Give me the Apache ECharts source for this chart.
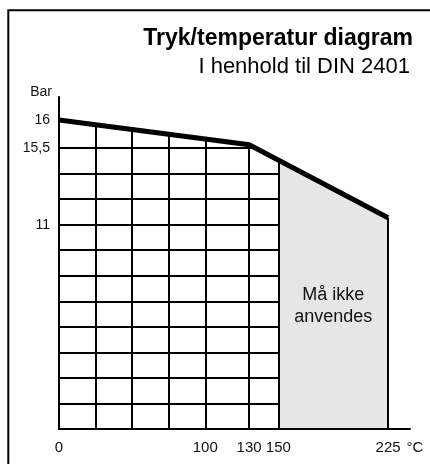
<!DOCTYPE html>
<html>
<head>
<meta charset="utf-8">
<script src="https://cdn.jsdelivr.net/npm/echarts@6/dist/echarts.min.js"></script>
<style>
  html, body { margin: 0; padding: 0; background: #fff; }
  #chart { width: 430px; height: 464px; }
</style>
</head>
<body>
<div id="chart"></div>
<script>
// schematic diagram: y axis counts grid rows, labelled with bar values
const temps = [0, 130, 225];
const levels = [12.1, 11.13, 8.27];
const xTicks = [0, 100, 130, 150, 225];
const yTickPos = [8, 11, 12.1];
const yTickLabels = ['11', '15,5', '16'];
const vLines = [25, 50, 75, 100, 130, 150];
const hRows = [1, 2, 3, 4, 5, 6, 7, 8, 9, 10, 11];
const safeLimit = 150;
const yTop = 13;
const noteText = 'Må ikke\nanvendes';
const noteAt = [187.5, 4.8];

const font = "'Liberation Sans', Arial, sans-serif";
const curve = temps.map((t, i) => [t, levels[i]]);
const lastT = temps[temps.length - 1];
const lastLevel = levels[levels.length - 1];

const chart = echarts.init(document.getElementById('chart'));

const gridLines = []
  .concat(hRows.map(r => [{ coord: [0, r] }, { coord: [safeLimit, r] }]))
  .concat(vLines.map(v => [{ coord: [v, 0] }, { coord: [v, yTop] }]))
  .concat([[{ coord: [lastT, 0] }, { coord: [lastT, lastLevel] }]]);

chart.setOption({
  animation: false,
  backgroundColor: '#fff',
  title: [
    {
      text: 'Tryk/temperatur diagram',
      right: 17, top: 27, padding: 0,
      textStyle: { fontFamily: font, fontSize: 23, fontWeight: 'bold', color: '#000' }
    },
    {
      text: 'I henhold til DIN 2401',
      right: 20, top: 56, padding: 0,
      textStyle: { fontFamily: font, fontSize: 22, fontWeight: 'normal', color: '#000' }
    }
  ],
  graphic: [{
    type: 'rect', z: -10, silent: true,
    shape: { x: 8.3, y: 10.3, width: 600, height: 600 },
    style: { fill: 'none', stroke: '#000', lineWidth: 2 }
  }],
  grid: { left: 59, right: 20, top: 97, bottom: 35 },
  xAxis: {
    type: 'value', min: 0, max: 240, z: 10,
    name: '°C', nameLocation: 'end', nameGap: -5,
    nameTextStyle: { fontFamily: font, fontSize: 15, color: '#111', align: 'left', verticalAlign: 'top', padding: [11, 0, 0, 0] },
    axisLine: { show: true, lineStyle: { color: '#000', width: 2 } },
    axisTick: { show: false },
    splitLine: { show: false },
    axisLabel: {
      customValues: xTicks, margin: 11,
      fontFamily: font, fontSize: 15, color: '#111'
    }
  },
  yAxis: {
    type: 'value', min: 0, max: yTop, z: 10,
    name: 'Bar', nameLocation: 'end', nameGap: -2,
    nameTextStyle: { fontFamily: font, fontSize: 14, color: '#111', align: 'right', padding: [0, 7, 0, 0] },
    axisLine: { show: true, lineStyle: { color: '#000', width: 2 } },
    axisTick: { show: false },
    splitLine: { show: false },
    axisLabel: {
      customValues: yTickPos, margin: 9,
      fontFamily: font, fontSize: 14, color: '#111',
      formatter: v => yTickLabels[yTickPos.indexOf(v)]
    }
  },
  series: [
    {
      // grey "not allowed" region under the curve
      type: 'line', z: 1, silent: true, data: curve,
      symbol: 'none', lineStyle: { width: 0, opacity: 0 },
      areaStyle: { color: '#e6e6e6', opacity: 1, origin: 'start' }
    },
    {
      // white field of the allowed range
      type: 'line', z: 2, silent: true, data: curve,
      symbol: 'none', lineStyle: { opacity: 0 },
      markArea: {
        silent: true, z: 2,
        itemStyle: { color: '#fff', opacity: 1 },
        data: [[{ xAxis: 0, yAxis: 0 }, { xAxis: safeLimit, yAxis: yTop }]]
      }
    },
    {
      type: 'line', z: 3, silent: true, data: curve,
      symbol: 'none', lineStyle: { opacity: 0 },
      markLine: {
        silent: true, z: 3, symbol: ['none', 'none'],
        label: { show: false },
        lineStyle: { color: '#000', width: 2, type: 'solid' },
        data: gridLines
      }
    },
    {
      // blank out everything above the curve
      type: 'line', z: 4, silent: true, data: curve,
      symbol: 'none', lineStyle: { opacity: 0 },
      areaStyle: { color: '#fff', opacity: 1, origin: 'end' }
    },
    {
      type: 'line', z: 6, silent: true, data: curve,
      symbol: 'none',
      lineStyle: { color: '#000', width: 5, join: 'miter' },
      markPoint: {
        silent: true, z: 6, symbol: 'rect', symbolSize: 1,
        itemStyle: { color: 'rgba(0,0,0,0)' },
        label: {
          show: true, position: 'inside', formatter: noteText,
          fontFamily: font, fontSize: 18, lineHeight: 22, color: '#111'
        },
        data: [{ coord: noteAt }]
      }
    }
  ]
});
</script>
</body>
</html>
